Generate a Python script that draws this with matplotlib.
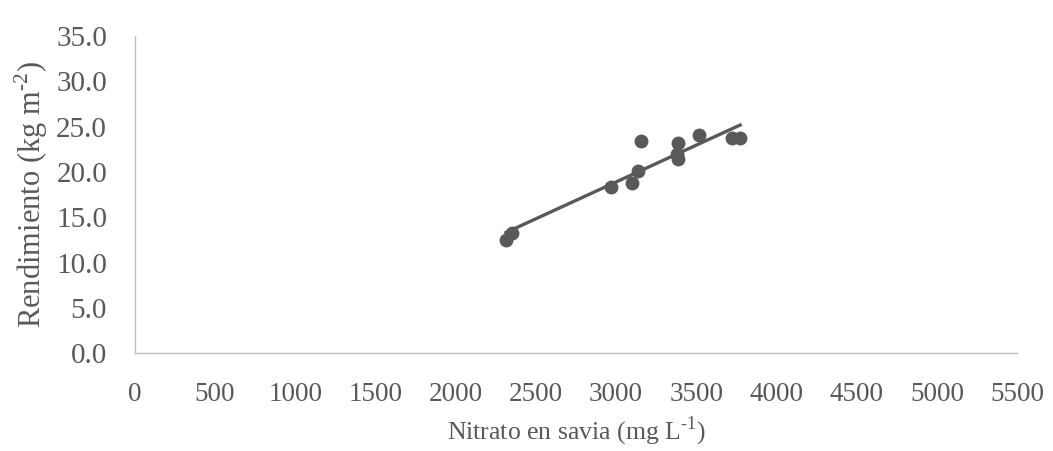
import numpy as np
import matplotlib
matplotlib.use("Agg")
import matplotlib.pyplot as plt

plt.rcParams['font.family'] = ['Liberation Serif', 'DejaVu Serif']
plt.rcParams['mathtext.fontset'] = 'custom'
plt.rcParams['mathtext.rm'] = 'Liberation Serif'

# data
nitrato = [2313, 2349, 2968, 3101, 3139, 3153, 3384, 3378, 3386, 3517, 3723, 3773]
rendimiento = [12.5, 13.3, 18.3, 18.8, 20.1, 23.4, 23.2, 22.0, 21.4, 24.1, 23.7, 23.7]

x_ticks = list(range(0, 5501, 500))
y_ticks = [0, 5, 10, 15, 20, 25, 30, 35]

grey = "#595959"

fig = plt.figure(figsize=(10.53, 4.51), dpi=100)
ax = fig.add_axes([0.128, 0.217, 0.838, 0.703])

ax.scatter(nitrato, rendimiento, s=100, color=grey, zorder=3, linewidths=0)

# linear trendline over data range
m, b = np.polyfit(nitrato, rendimiento, 1)
xs = np.array([min(nitrato), max(nitrato)])
ax.plot(xs, m * xs + b, color=grey, lw=2.4, zorder=2)

ax.set_xlim(0, 5500)
ax.set_ylim(0, 35)
ax.set_xticks(x_ticks)
ax.set_yticks(y_ticks)
ax.set_yticklabels([f"{v:.1f}" for v in y_ticks])
ax.tick_params(length=0, colors=grey)
ax.tick_params(axis='y', labelsize=21, pad=20)
ax.tick_params(axis='x', labelsize=19.5, pad=21)

for s in ['top', 'right']:
    ax.spines[s].set_visible(False)
for s in ['left', 'bottom']:
    ax.spines[s].set_color("#bfbfbf")
    ax.spines[s].set_linewidth(1.0)

ax.set_xlabel(r"Nitrato en savia (mg L$^{\text{-1}}$)", fontsize=18.5, color=grey, labelpad=5)
ax.set_ylabel(r"Rendimiento (kg m$^{\text{-2}}$)", fontsize=22, color=grey, labelpad=4)

fig.savefig("out.png", dpi=100)
